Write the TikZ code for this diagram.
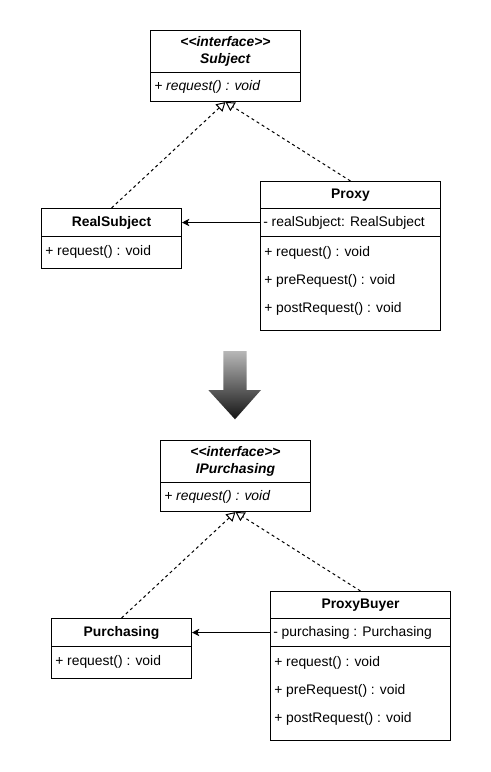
\documentclass[tikz,border=0pt]{standalone}
\usepackage{fontspec}
\setmainfont{Liberation Sans}
\usetikzlibrary{arrows.meta}

\tikzset{
	classhead/.style 2 args={draw, line width=0.75pt, anchor=north west, inner sep=0pt,
		minimum width=#1*0.75pt, minimum height=#2*0.75pt, align=center,
		font=\fontsize{10.4}{12.5}\selectfont\bfseries},
	classbody/.style 2 args={draw, line width=0.75pt, anchor=north west, inner sep=0pt,
		minimum width=#1*0.75pt, minimum height=#2*0.75pt},
	member/.style={anchor=west, inner sep=0pt},
	realize/.style={line width=0.75pt, dash pattern=on 2.25pt off 2.25pt,
		-{Triangle[open, length=6.75pt, width=7.5pt]}},
	assoc/.style={line width=0.75pt, -{Stealth[length=5.5pt, width=5.5pt, inset=1.5pt]}},
}

\begin{document}
\begin{tikzpicture}[x=0.75pt, y=-0.75pt, font=\fontsize{10.4}{12.5}\selectfont]
	\useasboundingbox (0,0) rectangle (491,772);
	% interface Subject
		\node[classhead={150}{42}] (subjecthead) at (150,30) {\textit{<{}<interface>{}>}\\\textit{Subject}};
		\node[classbody={150}{29}] (subjectbody) at (150,72) {};
		\node[member] at (154,87) {\textit{+ request() : void}};
	% RealSubject
		\node[classhead={140}{28}] (realsubhead) at (41,208) {RealSubject};
		\node[classbody={140}{32}] (realsubbody) at (41,236) {};
		\node[member] at (45,252) {+ request() : void};
	% Proxy
		\node[classhead={180}{27}] (proxyhead) at (260,181) {Proxy};
		\node[classbody={180}{28}] (proxyattr) at (260,208) {};
		\node[classbody={180}{94}] (proxyops) at (260,236) {};
		\node[member] at (263,223) {- realSubject: RealSubject};
		\node[member] at (264,253) {+ request() : void};
		\node[member] at (264,281) {+ preRequest() : void};
		\node[member] at (264,309) {+ postRequest() : void};
	% connectors top
		\draw[realize] (realsubhead.north) -- (subjectbody.south);
		\draw[realize] (proxyhead.north) -- (subjectbody.south);
		\draw[assoc] (proxyattr.west) -- (realsubhead.east);
	% big arrow
		\shade[top color=black!28, bottom color=black!92] (223.3,351) -- (246.7,351) -- (246.7,390)
			-- (261,390) -- (235,419.3) -- (208.3,390) -- (223.3,390) -- cycle;
	% interface IPurchasing
		\node[classhead={150}{42}] (ipurchhead) at (160,440) {\textit{<{}<interface>{}>}\\\textit{IPurchasing}};
		\node[classbody={150}{29}] (ipurchbody) at (160,482) {};
		\node[member] at (164,497) {\textit{+ request() : void}};
	% Purchasing
		\node[classhead={140}{28}] (purchhead) at (51,618) {Purchasing};
		\node[classbody={140}{32}] (purchbody) at (51,646) {};
		\node[member] at (55,662) {+ request() : void};
	% ProxyBuyer
		\node[classhead={180}{27}] (buyerhead) at (270,591) {ProxyBuyer};
		\node[classbody={180}{28}] (buyerattr) at (270,618) {};
		\node[classbody={180}{94}] (buyerops) at (270,646) {};
		\node[member] at (273,633) {- purchasing : Purchasing};
		\node[member] at (274,663) {+ request() : void};
		\node[member] at (274,691) {+ preRequest() : void};
		\node[member] at (274,719) {+ postRequest() : void};
	% connectors bottom
		\draw[realize] (purchhead.north) -- (ipurchbody.south);
		\draw[realize] (buyerhead.north) -- (ipurchbody.south);
		\draw[assoc] (buyerattr.west) -- (purchhead.east);
\end{tikzpicture}
\end{document}
